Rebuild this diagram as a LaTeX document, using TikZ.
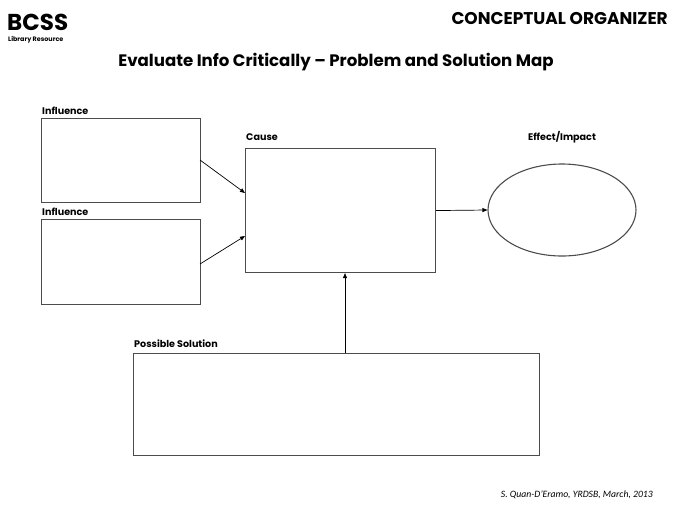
\documentclass[tikz,border=0pt]{standalone}
\usepackage{fontspec}
\setmainfont{Poppins}
\newfontfamily\footfont{Carlito}
\usetikzlibrary{shapes.geometric,arrows.meta}
\begin{document}
\begin{tikzpicture}[x=1pt,y=-1pt,
  box/.style={draw=black!70,line width=1.1pt,inner sep=0pt,anchor=north west},
  lbl/.style={font=\bfseries\fontsize{9.6}{10}\selectfont,anchor=base west,inner sep=0pt},
  conn/.style={draw=black,line width=0.7pt,-{Triangle[length=5pt,width=4pt]}}]
\useasboundingbox (0,0) rectangle (680,507);
\node[anchor=base west,inner sep=0pt,font=\bfseries\fontsize{23}{26}\selectfont] (bcss) at (7,30) {BCSS};
\node[anchor=base west,inner sep=0pt,font=\bfseries\fontsize{6.4}{7}\selectfont] (lib) at (8,41) {Library Resource};
\node[anchor=base east,inner sep=0pt,font=\bfseries\fontsize{17}{20}\selectfont] (co) at (668,24) {CONCEPTUAL ORGANIZER};
\node[anchor=base,inner sep=0pt,font=\bfseries\fontsize{16.6}{19}\selectfont] (title) at (336,66) {Evaluate Info Critically -- Problem and Solution Map};
\node[box,minimum width=159pt,minimum height=84pt] (inf1) at (41,118) {};
\node[lbl] (inf1l) at (42,114) {Influence};
\node[box,minimum width=159pt,minimum height=85pt] (inf2) at (41,219) {};
\node[lbl] (inf2l) at (42,215) {Influence};
\node[box,minimum width=190pt,minimum height=124pt] (cause) at (245,148) {};
\node[lbl] (causel) at (246,140) {Cause};
\node[draw=black!70,line width=1.1pt,ellipse,minimum width=148pt,minimum height=92pt,inner sep=0pt] (eff) at (562,210) {};
\node[lbl,anchor=base] (effl) at (562,140) {Effect/Impact};
\node[box,minimum width=406pt,minimum height=102pt] (sol) at (133,353) {};
\node[lbl] (soll) at (134,347) {Possible Solution};
\coordinate (a1s) at (200,160);
\coordinate (a1e) at (245,193);
\coordinate (a2s) at (200,264);
\coordinate (a2e) at (245,236);
\draw[conn] (a1s) -- (a1e);
\draw[conn] (a2s) -- (a2e);
\draw[conn] (cause.east) -- (eff.west);
\draw[conn] (sol.north west) ++(212,0) coordinate (sp) -- (sp |- cause.south);
\node[anchor=base east,inner sep=0pt,font=\footfont\itshape\fontsize{9.7}{11}\selectfont] (foot) at (653,497) {S. Quan-D’Eramo, YRDSB, March, 2013};
\end{tikzpicture}
\end{document}
